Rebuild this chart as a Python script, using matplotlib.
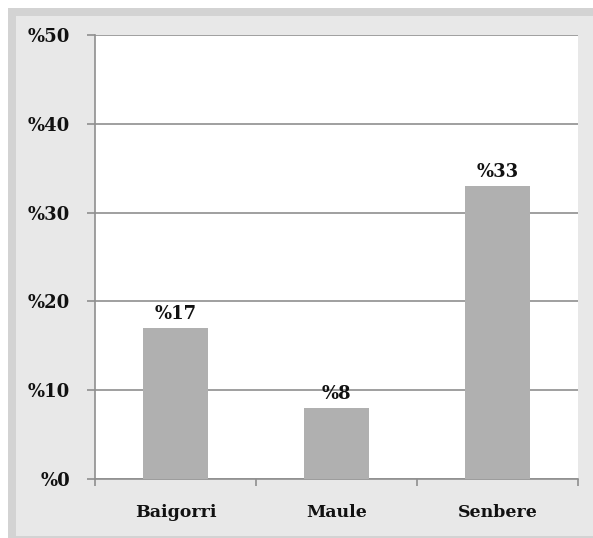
import matplotlib.pyplot as plt
import numpy as np
from matplotlib.patches import Rectangle

# Share of answers per village
villages = ["Baigorri", "Maule", "Senbere"]
shares = [17, 8, 33]
y_ticks = [0, 10, 20, 30, 40, 50]
y_labels = ["%" + str(t) for t in y_ticks]

W, H = 593, 538
fig = plt.figure(figsize=(W / 100, H / 100), dpi=100)
fig.patch.set_facecolor("white")

# framed grey panel behind the chart
fig.patches.append(Rectangle((8 / W, 0), 1, (H - 8) / H, transform=fig.transFigure,
                             facecolor="#d3d3d3", edgecolor="none", zorder=-2))
fig.patches.append(Rectangle((16 / W, 2 / H), 1, (H - 18) / H, transform=fig.transFigure,
                             facecolor="#e8e8e8", edgecolor="none", zorder=-1))

ax = fig.add_axes([95 / W, (H - 479) / H, (578 - 95) / W, (479 - 35) / H])
ax.set_facecolor("white")

x = np.arange(len(villages))
ax.bar(x, shares, width=0.4, color="#b0b0b0", zorder=3)

for xi, v in zip(x, shares):
    ax.text(xi, v + 0.6, "%" + str(v), ha="center", va="bottom",
            fontsize=13, fontweight="heavy", family="DejaVu Serif", color="#111111")

ax.set_xlim(-0.5, len(villages) - 0.5)
ax.set_ylim(0, 50)
ax.set_yticks(y_ticks)
ax.set_yticklabels(y_labels, fontsize=13, fontweight="heavy", family="DejaVu Serif")
ax.yaxis.grid(True, color="#8f8f8f", linewidth=1.2, zorder=0)

ax.set_xticks(x)
ax.set_xticklabels(villages, fontsize=12.5, fontweight="heavy", family="DejaVu Serif")
ax.set_xticks(np.arange(-0.5, len(villages)), minor=True)
ax.tick_params(axis="x", which="major", length=0, pad=18, colors="#111111")
ax.tick_params(axis="x", which="minor", length=5, width=1.2, color="#8f8f8f", direction="out")
ax.tick_params(axis="y", length=6, width=1.2, color="#8f8f8f", pad=12, labelcolor="#111111")

for side in ["top", "right"]:
    ax.spines[side].set_visible(False)
for side in ["left", "bottom"]:
    ax.spines[side].set_color("#8f8f8f")
    ax.spines[side].set_linewidth(1.2)

fig.savefig("out.png", dpi=100)
